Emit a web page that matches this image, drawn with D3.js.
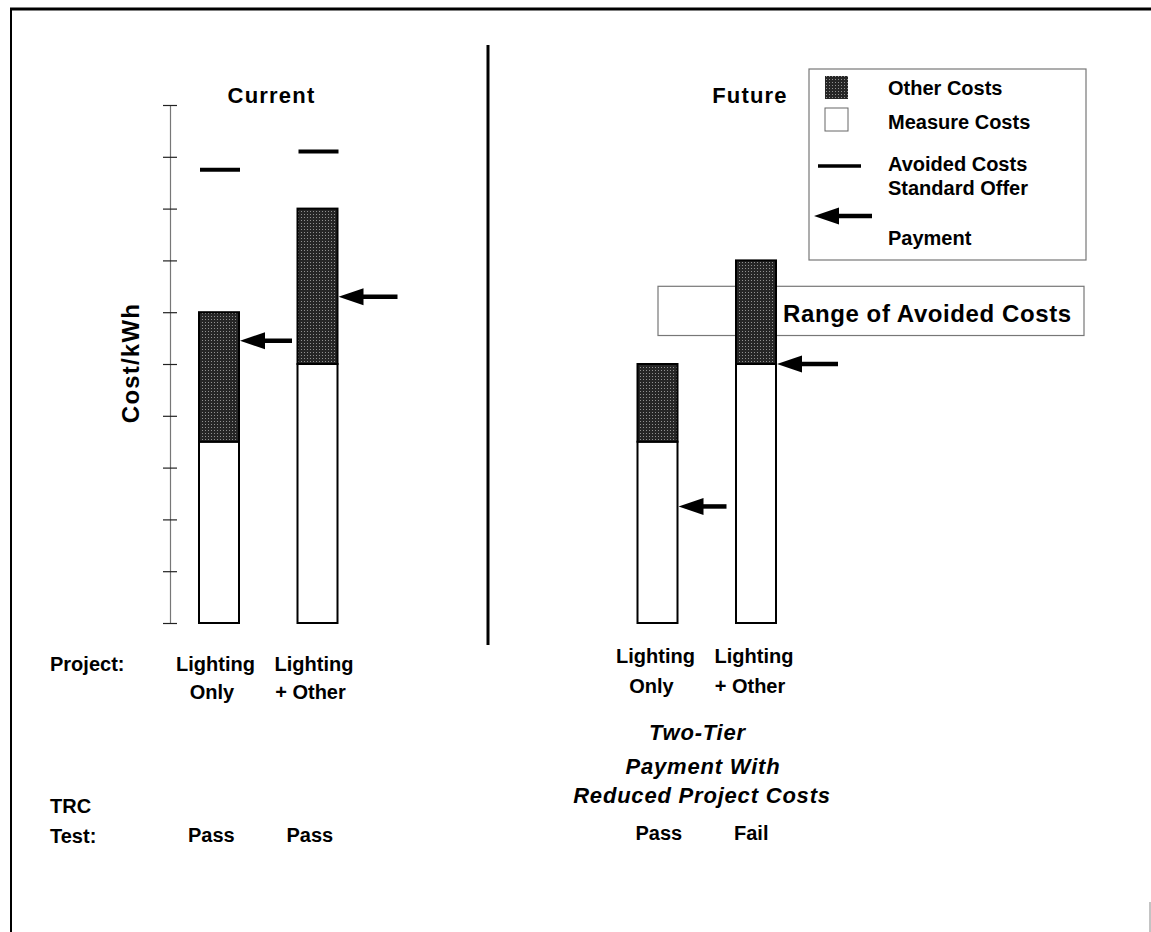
<!DOCTYPE html>
<html>
<head>
<meta charset="utf-8">
<script src="https://cdn.jsdelivr.net/npm/d3@7"></script>
<style>
  html, body { margin: 0; padding: 0; background: #fff; }
  svg { display: block; }
  text { font-family: "Liberation Sans", Arial, Helvetica, sans-serif; font-weight: bold; fill: #000; }
</style>
</head>
<body>
<div id="chart"></div>
<script>
// --- data (units of the Cost/kWh axis, 0..10) ---
const categories = ["Lighting Only", "Lighting + Other"];
const categoryLines = [["Lighting", "Only"], ["Lighting", "+ Other"]];
const yTickValues = [0, 1, 2, 3, 4, 5, 6, 7, 8, 9, 10];

const currentMeasure = [3.5, 5.0];
const currentOther = [2.5, 3.0];
const currentAvoided = [8.75, 9.1];
const currentPayment = [5.45, 6.3];
const currentTRC = ["Pass", "Pass"];

const futureMeasure = [3.5, 5.0];
const futureOther = [1.5, 2.0];
const futurePayment = [2.25, 5.0];
const futureTRC = ["Pass", "Fail"];
const avoidedRange = [5.55, 6.5];

const legendItems = ["Other Costs", "Measure Costs", "Avoided Costs", "Standard Offer Payment"];

const width = 1151, height = 932;
const barW = 40;

const svg = d3.select("#chart").append("svg")
  .attr("width", width)
  .attr("height", height);

svg.append("rect").attr("width", width).attr("height", height).attr("fill", "#fff");

// stippled fill for "Other Costs"
const defs = svg.append("defs");
const pat = defs.append("pattern")
  .attr("id", "stipple")
  .attr("patternUnits", "userSpaceOnUse")
  .attr("width", 3).attr("height", 3);
pat.append("rect").attr("width", 3).attr("height", 3).attr("fill", "#262626");
pat.append("rect").attr("x", 1).attr("y", 1).attr("width", 1).attr("height", 1).attr("fill", "#909090");

// frame
svg.append("line").attr("x1", 10).attr("x2", width).attr("y1", 9).attr("y2", 9)
  .attr("stroke", "#000").attr("stroke-width", 3);
svg.append("line").attr("x1", 11).attr("x2", 11).attr("y1", 8).attr("y2", height)
  .attr("stroke", "#000").attr("stroke-width", 2);
svg.append("line").attr("x1", 1150).attr("x2", 1150).attr("y1", 902).attr("y2", height)
  .attr("stroke", "#888").attr("stroke-width", 1);

// scales
const y = d3.scaleLinear().domain([0, 10]).range([623, 105]);
const xCur = d3.scalePoint().domain(categories).range([219, 317.5]);
const xFut = d3.scalePoint().domain(categories).range([657.5, 756]);

// Axis (no labels, ticks on both sides)
const axisG = svg.append("g").attr("transform", "translate(170,0)");
axisG.call(d3.axisLeft(y).tickValues(yTickValues).tickFormat("").tickSizeInner(7).tickSizeOuter(0));
axisG.append("g").call(d3.axisRight(y).tickValues(yTickValues).tickFormat("").tickSizeInner(7).tickSizeOuter(0))
  .select(".domain").remove();
axisG.selectAll(".domain").attr("stroke", "#777").attr("stroke-width", 1.2);
axisG.selectAll(".tick line").attr("stroke", "#222").attr("stroke-width", 1.2);

// Y label
svg.append("text")
  .attr("transform", `translate(139,${363}) rotate(-90)`)
  .attr("text-anchor", "middle")
  .style("font-size", "24px")
  .style("letter-spacing", "1.2px")
  .text("Cost/kWh");

// panel titles
svg.append("text").attr("x", 271.5).attr("y", 103).attr("text-anchor", "middle")
  .style("font-size", "22px").style("letter-spacing", "1.2px").text("Current");
svg.append("text").attr("x", 750).attr("y", 103).attr("text-anchor", "middle")
  .style("font-size", "22px").style("letter-spacing", "1.2px").text("Future");

// divider
svg.append("line").attr("x1", 488).attr("x2", 488).attr("y1", 45).attr("y2", 645)
  .attr("stroke", "#000").attr("stroke-width", 3);

// Range of avoided costs box (behind the future bars)
svg.append("rect")
  .attr("x", 658).attr("width", 1084 - 658)
  .attr("y", y(avoidedRange[1])).attr("height", y(avoidedRange[0]) - y(avoidedRange[1]))
  .attr("fill", "#fff").attr("stroke", "#777").attr("stroke-width", 1.2);
svg.append("text").attr("x", 783).attr("y", 322)
  .style("font-size", "24px").style("letter-spacing", "0.6px")
  .text("Range of Avoided Costs");

function drawBars(x, measure, other) {
  const g = svg.append("g");
  categories.forEach((c, i) => {
    const cx = x(c);
    g.append("rect")
      .attr("x", cx - barW / 2).attr("width", barW)
      .attr("y", y(measure[i])).attr("height", y(0) - y(measure[i]))
      .attr("fill", "#fff").attr("stroke", "#000").attr("stroke-width", 2);
    g.append("rect")
      .attr("x", cx - barW / 2).attr("width", barW)
      .attr("y", y(measure[i] + other[i])).attr("height", y(measure[i]) - y(measure[i] + other[i]))
      .attr("fill", "url(#stipple)").attr("stroke", "#000").attr("stroke-width", 2);
  });
}

function arrow(g, tipX, yy, len) {
  g.append("line")
    .attr("x1", tipX + 18).attr("x2", tipX + len)
    .attr("y1", yy).attr("y2", yy)
    .attr("stroke", "#000").attr("stroke-width", 4.5);
  g.append("path")
    .attr("d", `M${tipX},${yy} L${tipX + 25},${yy - 8.5} L${tipX + 25},${yy + 8.5} Z`)
    .attr("fill", "#000");
}

drawBars(xCur, currentMeasure, currentOther);
drawBars(xFut, futureMeasure, futureOther);

// avoided costs (current)
svg.append("g").selectAll("line")
  .data(currentAvoided)
  .join("line")
  .attr("x1", (d, i) => xCur(categories[i]) - barW / 2 + 1)
  .attr("x2", (d, i) => xCur(categories[i]) + barW / 2 + 1)
  .attr("y1", d => y(d)).attr("y2", d => y(d))
  .attr("stroke", "#000").attr("stroke-width", 4);

// standard offer payment arrows
const arrowsG = svg.append("g");
const curLen = [52, 59], futLen = [48, 61];
currentPayment.forEach((d, i) => arrow(arrowsG, xCur(categories[i]) + barW / 2 + 1, y(d), curLen[i]));
futurePayment.forEach((d, i) => arrow(arrowsG, xFut(categories[i]) + barW / 2 + 1, y(d), futLen[i]));

// category labels
function labels(x, base1, base2, off1, off2) {
  categories.forEach((c, i) => {
    svg.append("text").attr("x", x(c) + off1).attr("y", base1).attr("text-anchor", "middle")
      .style("font-size", "20px").text(categoryLines[i][0]);
    svg.append("text").attr("x", x(c) + off2).attr("y", base2).attr("text-anchor", "middle")
      .style("font-size", "20px").text(categoryLines[i][1]);
  });
}
labels(xCur, 671, 699, -3.5, -7);
labels(xFut, 663, 693, -2, -6);

svg.append("text").attr("x", 50).attr("y", 671).style("font-size", "20px").text("Project:");
svg.append("text").attr("x", 50).attr("y", 813).style("font-size", "20px").text("TRC");
svg.append("text").attr("x", 50).attr("y", 843).style("font-size", "20px").text("Test:");

currentTRC.forEach((t, i) => {
  svg.append("text").attr("x", xCur(categories[i]) - 31).attr("y", 842)
    .style("font-size", "20px").text(t);
});
futureTRC.forEach((t, i) => {
  svg.append("text").attr("x", xFut(categories[i]) - 22).attr("y", 840)
    .style("font-size", "20px").text(t);
});

// future caption
const caption = ["Two-Tier", "Payment With", "Reduced Project Costs"];
const capY = [740, 774, 803];
const capX = [697.5, 703, 702];
caption.forEach((t, i) => {
  svg.append("text").attr("x", capX[i]).attr("y", capY[i]).attr("text-anchor", "middle")
    .style("font-size", "22px").style("font-style", "italic").style("letter-spacing", "0.8px")
    .text(t);
});

// Legend
const lg = svg.append("g");
lg.append("rect").attr("x", 809).attr("y", 69).attr("width", 1086 - 809).attr("height", 260 - 69)
  .attr("fill", "none").attr("stroke", "#777").attr("stroke-width", 1.2);
lg.append("rect").attr("x", 825).attr("y", 76).attr("width", 23).attr("height", 23)
  .attr("fill", "url(#stipple)");
lg.append("rect").attr("x", 825).attr("y", 108).attr("width", 23).attr("height", 23)
  .attr("fill", "#fff").attr("stroke", "#666").attr("stroke-width", 1);
lg.append("line").attr("x1", 818).attr("x2", 861).attr("y1", 166).attr("y2", 166)
  .attr("stroke", "#000").attr("stroke-width", 3.5);
arrow(lg, 814, 216, 58);
lg.append("text").attr("x", 888).attr("y", 95).style("font-size", "20px").text(legendItems[0]);
lg.append("text").attr("x", 888).attr("y", 129).style("font-size", "20px").text(legendItems[1]);
lg.append("text").attr("x", 888).attr("y", 171).style("font-size", "20px").text(legendItems[2]);
lg.append("text").attr("x", 888).attr("y", 195).style("font-size", "20px").text("Standard Offer");
lg.append("text").attr("x", 888).attr("y", 245).style("font-size", "20px").text("Payment");
</script>
</body>
</html>
